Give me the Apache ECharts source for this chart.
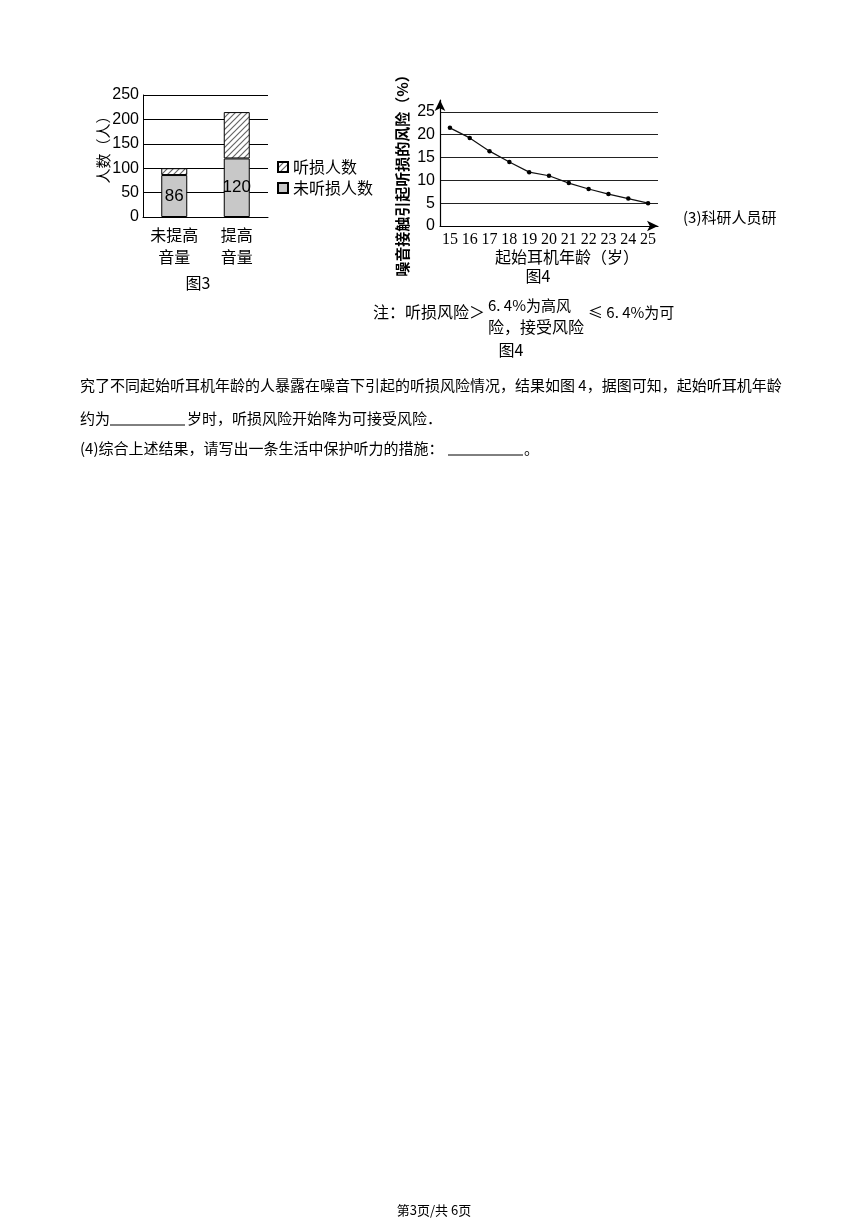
<!DOCTYPE html>
<html>
<head>
<meta charset="utf-8">
<script src="https://cdn.jsdelivr.net/npm/echarts@6/dist/echarts.min.js"></script>
<style>
  html, body { margin: 0; padding: 0; background: #fff; }
  #page { width: 868px; height: 1227px; }
</style>
</head>
<body>
<div id="page"></div>
<script>
// 图3 data
var barCategories = ['未提高\n音量', '提高\n音量'];
var notLossCounts = [86, 120];
var lossCounts = [14, 95];
// 图4 data
var ages = ['15', '16', '17', '18', '19', '20', '21', '22', '23', '24', '25'];
var riskValues = [21.5, 19.3, 16.4, 14.0, 11.8, 11.0, 9.4, 8.1, 7.0, 6.0, 5.0];

var cjk = '"Noto Sans CJK SC"';

// hatch pattern for 听损人数
var hatch = document.createElement('canvas');
hatch.width = 6;
hatch.height = 6;
var hc = hatch.getContext('2d');
hc.fillStyle = '#fff';
hc.fillRect(0, 0, 6, 6);
hc.strokeStyle = '#666';
hc.lineWidth = 1.2;
hc.beginPath();
hc.moveTo(0, 6); hc.lineTo(6, 0);
hc.moveTo(-3, 3); hc.lineTo(3, -3);
hc.moveTo(3, 9); hc.lineTo(9, 3);
hc.stroke();

function txt(text, x, y, size, opts) {
    opts = opts || {};
    return {
        type: 'text',
        x: x,
        y: y,
        rotation: opts.rotation || 0,
        style: {
            text: text,
            font: (opts.weight || 'normal') + ' ' + size + 'px ' + (opts.family || cjk),
            fill: '#000',
            textAlign: opts.align || 'left',
            textVerticalAlign: 'middle'
        }
    };
}

var chart = echarts.init(document.getElementById('page'));

var option = {
    backgroundColor: '#fff',
    animation: false,
    grid: [
        { left: 143, top: 95, width: 125, height: 122 },
        { left: 440, top: 100, width: 218, height: 126 }
    ],
    legend: {
        orient: 'vertical',
        left: 272,
        top: 154,
        icon: 'rect',
        itemWidth: 10,
        itemHeight: 10,
        itemGap: 5,
        selectedMode: false,
        data: ['听损人数', '未听损人数'],
        textStyle: { fontFamily: cjk, fontSize: 16, lineHeight: 16, color: '#000' }
    },
    xAxis: [
        {
            type: 'category',
            gridIndex: 0,
            data: barCategories,
            axisLine: { lineStyle: { color: '#000', width: 1 } },
            axisTick: { show: false },
            axisLabel: { color: '#000', fontFamily: cjk, fontSize: 16, lineHeight: 22, margin: 7 }
        },
        {
            type: 'category',
            gridIndex: 1,
            data: ages,
            axisLine: {
                lineStyle: { color: '#000', width: 1.2 },
                symbol: ['none', 'arrow'],
                symbolSize: [8, 11]
            },
            axisTick: { show: false },
            axisLabel: { color: '#000', fontFamily: '"Liberation Serif"', fontSize: 16, margin: 6, interval: 0 }
        }
    ],
    yAxis: [
        {
            type: 'value',
            gridIndex: 0,
            min: 0,
            max: 250,
            interval: 50,
            axisLine: { show: true, lineStyle: { color: '#000', width: 1 } },
            axisTick: { show: false },
            axisLabel: { color: '#000', fontFamily: '"Liberation Sans"', fontSize: 16, margin: 4 },
            splitLine: { lineStyle: { color: '#000', width: 1 } }
        },
        {
            type: 'value',
            gridIndex: 1,
            min: 0,
            max: 27.6,
            interval: 5,
            axisLine: {
                show: true,
                lineStyle: { color: '#000', width: 1.2 },
                symbol: ['none', 'arrow'],
                symbolSize: [8, 11]
            },
            axisTick: { show: false },
            axisLabel: { color: '#000', fontFamily: '"Liberation Sans"', fontSize: 16, margin: 5, showMaxLabel: false },
            splitLine: {
                lineStyle: {
                    color: ['#222', '#222', '#222', '#222', '#222', '#222', 'rgba(0,0,0,0)'],
                    width: 1.2
                }
            }
        }
    ],
    series: [
        {
            name: '未听损人数',
            type: 'bar',
            xAxisIndex: 0,
            yAxisIndex: 0,
            stack: 'people',
            barWidth: 26,
            data: notLossCounts,
            itemStyle: { color: '#c8c8c8', borderColor: '#000', borderWidth: 1 },
            label: { show: true, position: 'inside', color: '#000', fontFamily: '"Liberation Sans"', fontSize: 17 }
        },
        {
            name: '听损人数',
            type: 'bar',
            xAxisIndex: 0,
            yAxisIndex: 0,
            stack: 'people',
            barWidth: 26,
            data: lossCounts,
            itemStyle: { color: { image: hatch, repeat: 'repeat' }, borderColor: '#000', borderWidth: 1 }
        },
        {
            name: '风险',
            type: 'line',
            xAxisIndex: 1,
            yAxisIndex: 1,
            data: riskValues,
            symbol: 'circle',
            symbolSize: 4.5,
            lineStyle: { color: '#111', width: 1.2 },
            itemStyle: { color: '#000' }
        }
    ],
    graphic: [
        txt('人数（人）', 103, 146, 15, { rotation: Math.PI / 2, align: 'center' }),
        txt('图3', 198, 283, 16, { align: 'center' }),
        txt('噪音接触引起听损的风险（%）', 402, 172, 15, { rotation: Math.PI / 2, align: 'center', weight: 'bold' }),
        txt('起始耳机年龄（岁）', 567, 257, 16, { align: 'center' }),
        txt('图4', 538, 276, 16, { align: 'center' }),
        txt('(3)科研人员研', 683, 217, 15),
        txt('注：听损风险＞', 373, 312, 16),
        txt('6. 4%为高风', 488, 305, 15),
        txt('险，接受风险', 488, 327, 16),
        txt('≤ 6. 4%为可', 588, 312, 15),
        txt('图4', 511, 350, 16, { align: 'center' }),
        txt('究了不同起始听耳机年龄的人暴露在噪音下引起的听损风险情况，结果如图 4，据图可知，起始听耳机年龄', 80, 385, 15),
        txt('约为', 80, 418, 15),
        { type: 'line', shape: { x1: 110, y1: 425, x2: 185, y2: 425 }, style: { stroke: '#000', lineWidth: 1 } },
        txt('岁时，听损风险开始降为可接受风险．', 187, 418, 15),
        txt('(4)综合上述结果，请写出一条生活中保护听力的措施：', 80, 448, 15),
        { type: 'line', shape: { x1: 448, y1: 455, x2: 523, y2: 455 }, style: { stroke: '#000', lineWidth: 1 } },
        txt('。', 524, 448, 15),
        txt('第3页/共 6页', 434, 1210, 13, { align: 'center' })
    ]
};

chart.setOption(option);
</script>
</body>
</html>
